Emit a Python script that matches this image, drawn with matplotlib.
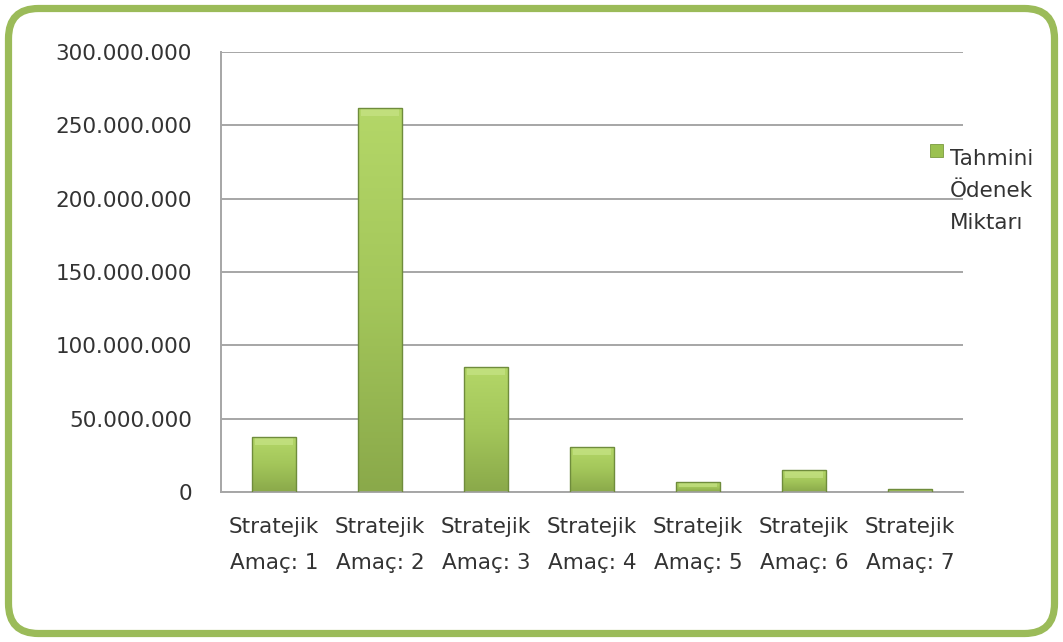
import numpy as np
import matplotlib
matplotlib.use('Agg')
import matplotlib.pyplot as plt
from matplotlib.patches import FancyBboxPatch
from matplotlib.colors import LinearSegmentedColormap
from matplotlib.ticker import FuncFormatter


categories = ['Stratejik\nAmaç: 1', 'Stratejik\nAmaç: 2', 'Stratejik\nAmaç: 3',
              'Stratejik\nAmaç: 4', 'Stratejik\nAmaç: 5', 'Stratejik\nAmaç: 6',
              'Stratejik\nAmaç: 7']
values = [37400000, 261500000, 85300000, 30400000, 6800000, 14800000, 2300000]
series_name = 'Tahmini\nÖdenek\nMiktarı'
yticks = [0, 50000000, 100000000, 150000000, 200000000, 250000000, 300000000]


W, H, DPI = 1063, 642, 100
fig = plt.figure(figsize=(W / DPI, H / DPI), dpi=DPI)
fig.patch.set_facecolor('white')

# rounded green frame
frame = FancyBboxPatch((0.085, 0.085), W / DPI - 0.17, H / DPI - 0.17,
                       boxstyle='round,pad=0,rounding_size=0.3',
                       transform=fig.dpi_scale_trans, facecolor='none',
                       edgecolor='#9bbb59', linewidth=5.2, zorder=0)
fig.patches.append(frame)

ax = fig.add_axes([221 / W, 1 - 492 / H, (963 - 221) / W, (492 - 52) / H])
ax.set_facecolor('none')
ax.set_zorder(2)

x = np.arange(len(categories))
bars = ax.bar(x, values, width=0.42, color='none', edgecolor='#6f8c3c',
              linewidth=1.0, zorder=3)

# vertical gradient inside each bar
cmap = LinearSegmentedColormap.from_list('g', ['#8aa94a', '#a3c65a', '#b4d768'])
grad = np.linspace(0, 1, 256).reshape(-1, 1)
for b in bars:
    x0 = b.get_x()
    x1 = x0 + b.get_width()
    h = b.get_height()
    im = ax.imshow(grad, extent=[x0, x1, 0, h], origin='lower', aspect='auto',
                   cmap=cmap, zorder=2)
    im.set_clip_path(b)
    # light bevel band near the top
    bev = min(h * 0.5, 5200000)
    ax.fill_between([x0 + 0.03, x1 - 0.03], h - bev, h - 600000,
                    color='#cde88f', alpha=0.55, lw=0, zorder=2.5)

ax.set_xlim(-0.5, len(categories) - 0.5)
ax.set_ylim(0, 300000000)
ax.set_yticks(yticks)
ax.yaxis.set_major_formatter(FuncFormatter(lambda v, p: f'{int(v):,}'.replace(',', '.')))
ax.set_xticks(x)
ax.set_xticklabels(categories, linespacing=2.0)

ax.grid(axis='y', color='#a6a6a6', linewidth=1.4, zorder=1)
ax.set_axisbelow(True)
for s in ['top', 'right']:
    ax.spines[s].set_visible(False)
for s in ['left', 'bottom']:
    ax.spines[s].set_color('#a6a6a6')
    ax.spines[s].set_linewidth(1.4)

ax.tick_params(axis='both', length=0, labelsize=15.5, colors='#333333')
ax.tick_params(axis='y', pad=21)
ax.tick_params(axis='x', pad=18)

# legend drawn by hand at the right
fig.patches.append(plt.Rectangle((930 / W, 1 - 157 / H), 13 / W, 13 / H,
                                 transform=fig.transFigure, facecolor='#9bc150',
                                 edgecolor='#7a9a3e', linewidth=0.6))
fig.text(950 / W, 1 - 149 / H, series_name, fontsize=15.5, color='#333333',
         va='top', ha='left', linespacing=1.75)

fig.savefig('out.png', dpi=DPI)
